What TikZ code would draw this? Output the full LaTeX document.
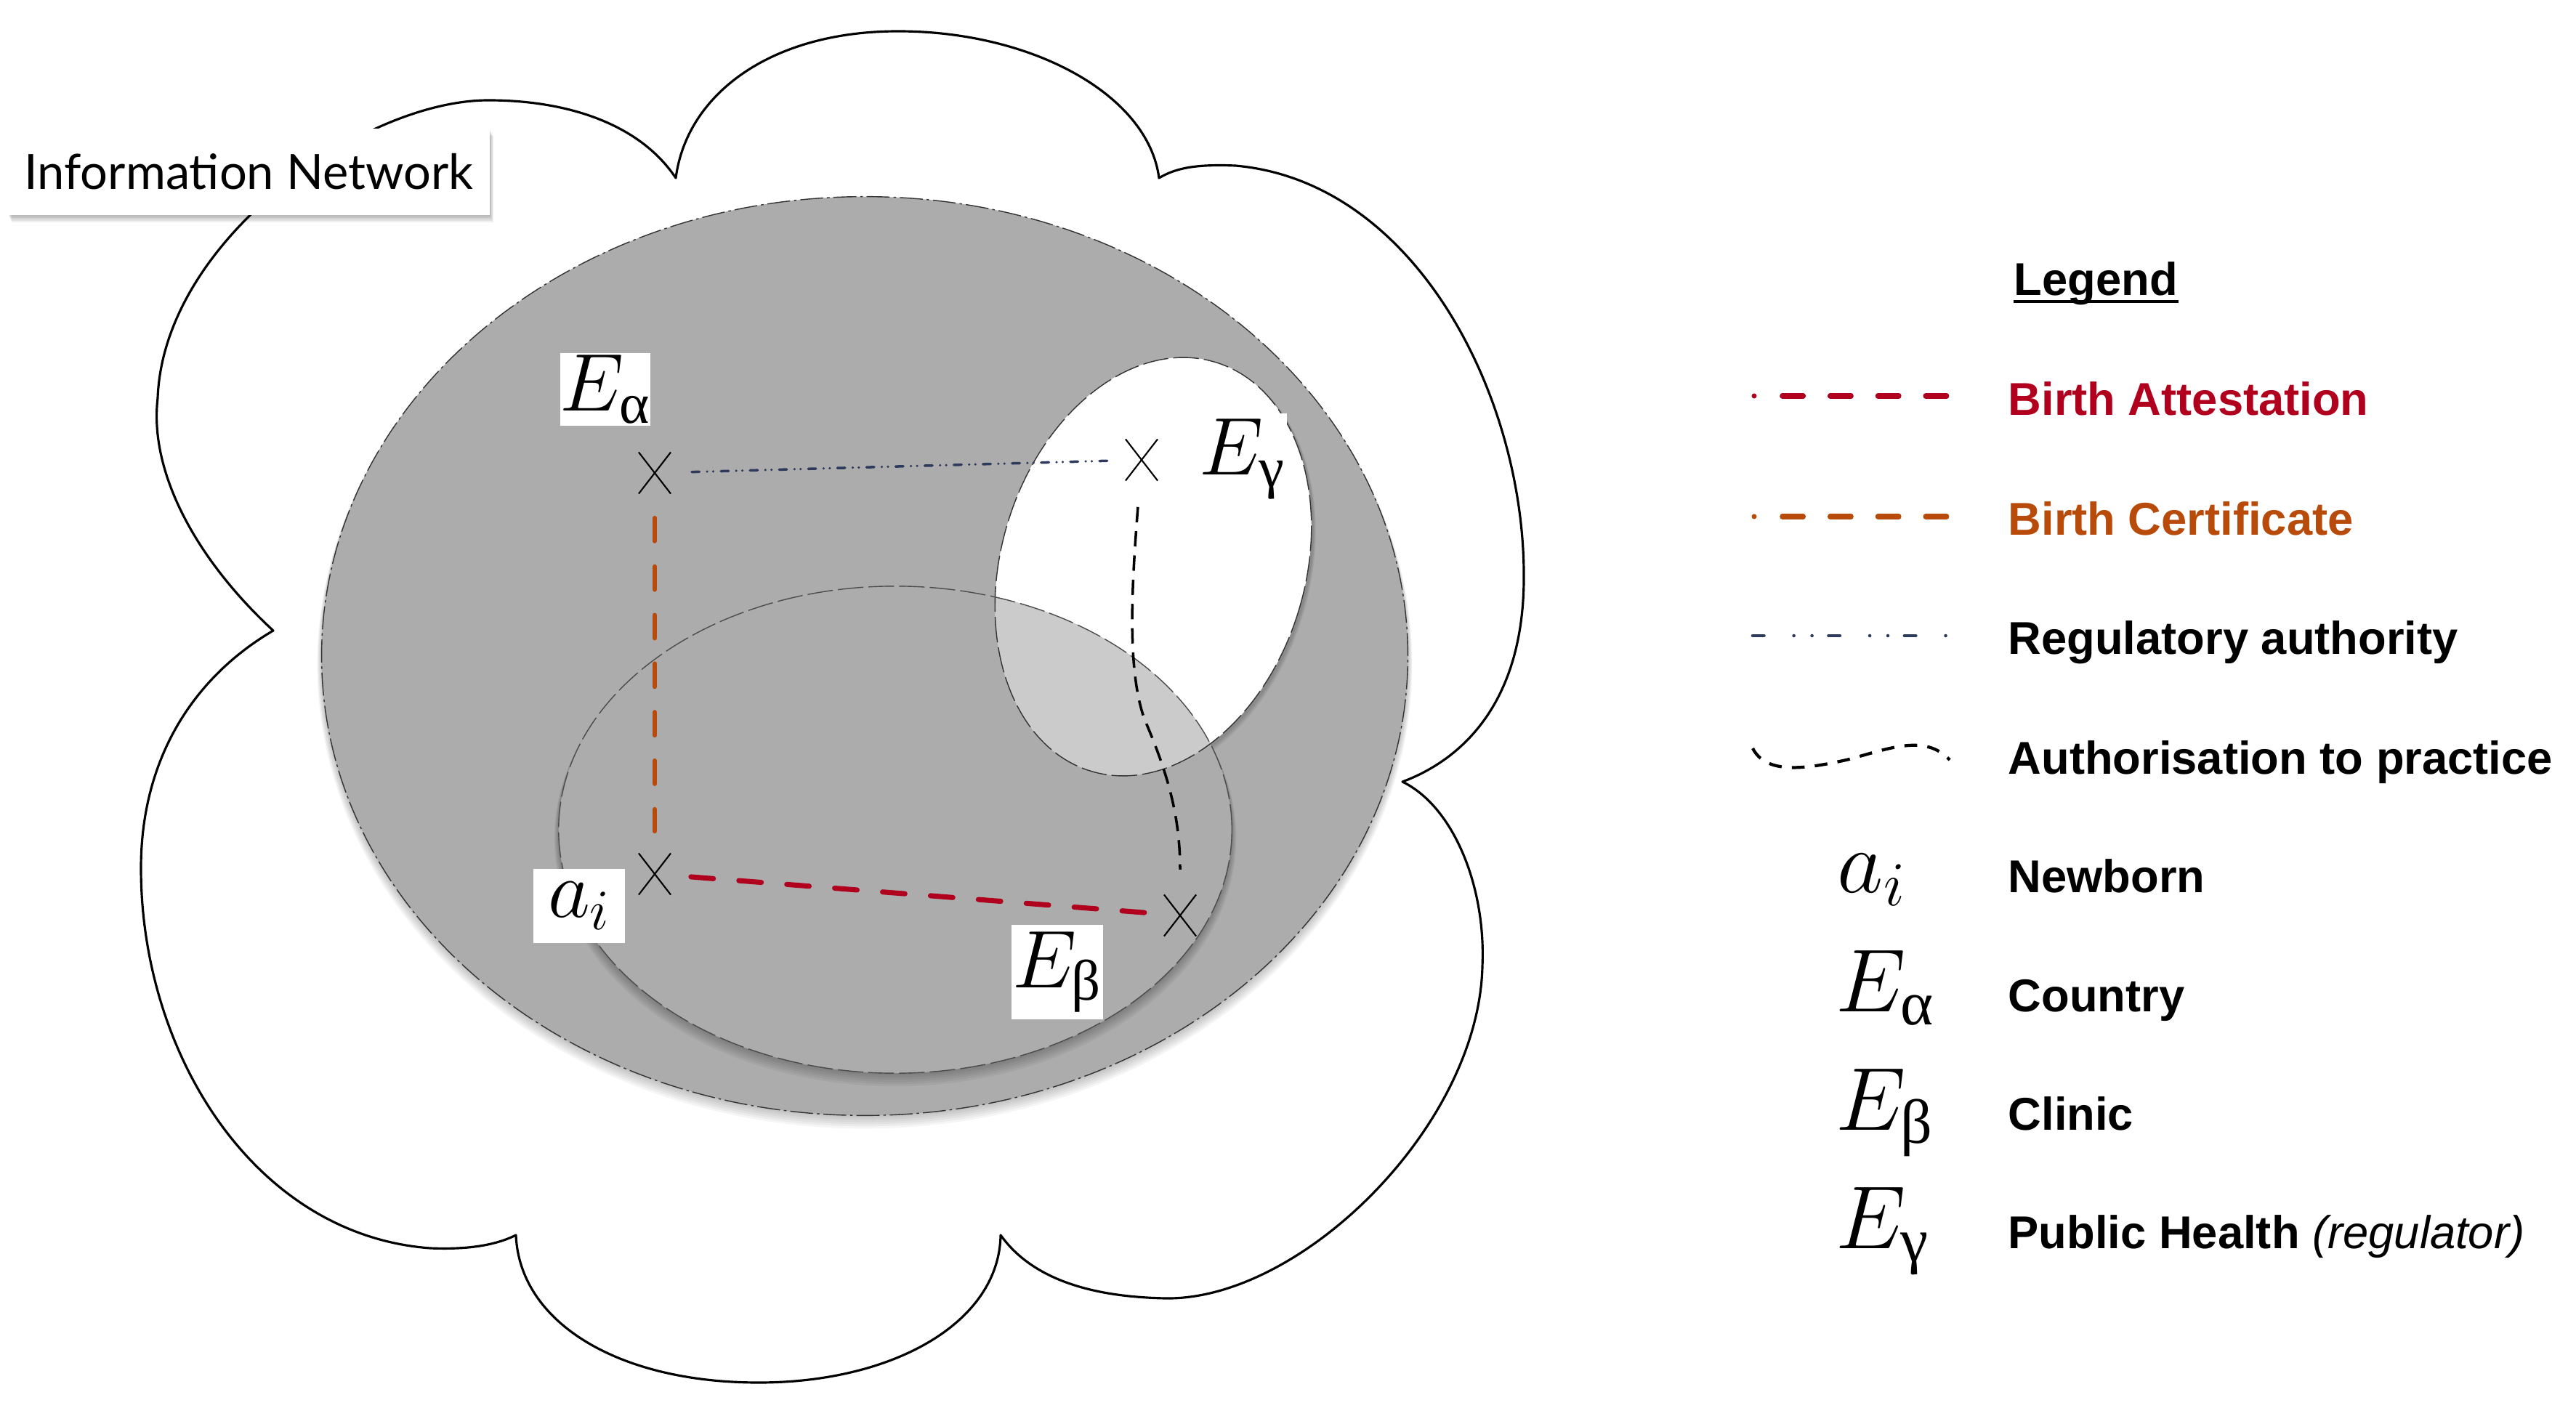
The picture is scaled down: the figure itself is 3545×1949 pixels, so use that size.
\RequirePackage{fix-cm}
\documentclass[tikz,border=0pt]{standalone}
\usepackage{fontspec}
\usepackage{amsmath}
\usetikzlibrary{shapes.misc}
\newfontfamily\latofont{Lato}
\newfontfamily\helvfont{Liberation Sans}
\newfontfamily\grkfont{Liberation Serif}
\newcommand{\grA}{\text{\grkfont α}}
\newcommand{\grB}{\text{\grkfont β}}
\newcommand{\grG}{\text{\grkfont γ}}
\definecolor{cgray}{RGB}{172,172,172}
\definecolor{clight}{RGB}{203,203,203}
\definecolor{cred}{RGB}{176,0,30}
\definecolor{corange}{RGB}{184,74,10}
\definecolor{cnavy}{RGB}{46,58,92}
\tikzset{
  cloudline/.style={line width=0.9pt, line join=round},
  crossmark/.style={cross out, draw, line width=0.6pt, inner sep=0pt, minimum width=0.42cm, minimum height=0.55cm},
  lab/.style={fill=white, inner sep=0pt, font=\fontsize{32}{34}\selectfont},
  attest/.style={cred, line width=2pt, line cap=round, dash pattern=on 8.8pt off 10pt},
  certif/.style={corange, line width=1.8pt, line cap=round, dash pattern=on 9pt off 10pt},
  regul/.style={cnavy, line width=1pt, line cap=round, dash pattern=on 3pt off 3pt on 0pt off 2.4pt on 0pt off 3pt},
  author/.style={black, line width=1pt, dash pattern=on 6pt off 3.5pt},
  legdash/.style={line width=2pt, line cap=round, dash pattern=on 0pt off 11pt on 8.2pt off 10.5pt on 8.2pt off 10.5pt on 8.2pt off 10.5pt on 8.2pt off 20pt},
  legreg/.style={cnavy, line width=1.3pt, line cap=round, dash pattern=on 4.4pt off 11.7pt on 0pt off 7.1pt on 0pt off 6.5pt},
  legauth/.style={black, line width=1.2pt, dash pattern=on 5pt off 4pt},
  legtext/.style={anchor=base west, inner sep=0pt, font=\helvfont\bfseries\fontsize{18}{22}\selectfont},
  legsym/.style={anchor=base west, inner sep=0pt, font=\fontsize{35}{38}\selectfont},
  infobox/.style={fill=white, inner sep=0pt, minimum width=6.63cm, minimum height=1.19cm, font=\latofont\fontsize{19}{22}\selectfont}
}
\begin{document}
\begin{tikzpicture}[x=0.01cm, y=-0.01cm]
\useasboundingbox (0,0) rectangle (3545,1949);
\fill[white] (0,0) rectangle (3545,1949);

% cloud
\draw[cloudline] (930,245) .. controls (945,130) and (1060,43) .. (1236,43)
 .. controls (1420,43) and (1580,130) .. (1595,245)
 .. controls (1620,230) and (1650,226) .. (1700,228)
 .. controls (1950,250) and (2100,550) .. (2097,800)
 .. controls (2095,980) and (2000,1050) .. (1930,1076)
 .. controls (2000,1110) and (2045,1220) .. (2040,1330)
 .. controls (2035,1550) and (1790,1790) .. (1604,1787)
 .. controls (1500,1785) and (1420,1760) .. (1377,1700)
 .. controls (1375,1820) and (1230,1903) .. (1044,1903)
 .. controls (850,1903) and (715,1820) .. (710,1700)
 .. controls (680,1715) and (640,1720) .. (592,1718)
 .. controls (350,1700) and (194,1450) .. (194,1195)
 .. controls (194,1040) and (270,930) .. (376,868)
 .. controls (270,770) and (205,650) .. (217,548)
 .. controls (225,330) and (500,138) .. (672,138)
 .. controls (780,138) and (880,170) .. (930,245) -- cycle;

% info box with shadow
\foreach \k in {1,...,5}
  \fill[black, opacity=0.06] (11+\k,177+2*\k) rectangle (674+\k,296+2*\k);
\node[infobox] (info) at (342.5,236.5) {Information Network};

% big ellipse (country)
\foreach \k in {1,...,6}
  \fill[black, opacity=0.04] (1190,903+2*\k) ellipse [x radius=7.47cm+\k*0.01cm, y radius=6.32cm+\k*0.01cm];
\fill[cgray] (1190,903) ellipse [x radius=7.47cm, y radius=6.32cm];

% white ellipse (public health)
\foreach \k in {1,...,4}
  \fill[black, opacity=0.05, rotate around={-17:(1589,782+\k)}] (1589,782+\k) ellipse [x radius=2.09cm+\k*0.01cm, y radius=2.94cm+\k*0.01cm];
\fill[white, rotate around={-17:(1587,780)}] (1587,780) ellipse [x radius=2.09cm, y radius=2.94cm];

% lower ellipse (clinic)
\foreach \k in {1,...,6}
  \fill[black, opacity=0.045] (1232,1142+2*\k) ellipse [x radius=4.63cm+\k*0.01cm, y radius=3.35cm+\k*0.01cm];
\fill[cgray] (1232,1142) ellipse [x radius=4.63cm, y radius=3.35cm];
\begin{scope}
  \clip (1232,1142) ellipse [x radius=4.63cm, y radius=3.35cm];
  \fill[clight, rotate around={-17:(1587,780)}] (1587,780) ellipse [x radius=2.09cm, y radius=2.94cm];
\end{scope}

% outlines
\draw[black!80, line width=0.4pt, dash pattern=on 9pt off 1.5pt on 1pt off 1.5pt] (1190,903) ellipse [x radius=7.47cm, y radius=6.32cm];
\draw[black!80, line width=0.4pt, dash pattern=on 10pt off 2pt, rotate around={-17:(1587,780)}] (1587,780) ellipse [x radius=2.09cm, y radius=2.94cm];
\draw[black!70, line width=0.4pt, dash pattern=on 10pt off 2pt] (1232,1142) ellipse [x radius=4.63cm, y radius=3.35cm];

% points
\node[crossmark] (xa) at (901,651) {};
\node[crossmark] (xg) at (1571,633) {};
\node[crossmark] (xi) at (901,1203) {};
\node[crossmark] (xb) at (1624,1260) {};

% labels
\node[lab, minimum width=1.24cm, minimum height=1.0cm] (la) at (833,536) {$E_{\grA}$};
\node[lab, minimum width=1.22cm, minimum height=1.26cm] (lg) at (1710,632) {$E_{\grG}$};
\node[lab, minimum width=1.25cm, minimum height=1.02cm] (li) at (797,1247) {$a_i$};
\node[lab, minimum width=1.25cm, minimum height=1.30cm] (lb) at (1455,1338) {$E_{\grB}$};

% connectors
\draw[regul, shorten <=0.51cm, shorten >=0.39cm] (xa.center) -- (xg.center);
\draw[certif, shorten <=0.62cm, shorten >=0.59cm] (xa.center) -- (xi.center);
\draw[attest, shorten <=0.50cm, shorten >=0.39cm] (xi.center) -- (xb.center);
\draw[author, shorten <=0.65cm, shorten >=0.63cm] (xg.center) .. controls (1558,800) and (1550,920) .. (1575,990) .. controls (1605,1060) and (1624,1120) .. (xb.center);

% legend
\node[anchor=base west, inner sep=0pt, font=\helvfont\bfseries\fontsize{18}{22}\selectfont] (leg) at (2771,407) {Legend};
\draw[line width=0.9pt] ([yshift=-0.08cm]leg.base west) -- ([yshift=-0.08cm]leg.base east);

\coordinate (r1a) at (2414,545); \coordinate (r1b) at (2681,545);
\draw[legdash, cred] (r1a) -- (r1b);
\node[legtext, text=cred] (t1) at (2763,572) {Birth Attestation};

\coordinate (r2a) at (2414,711); \coordinate (r2b) at (2681,711);
\draw[legdash, corange] (r2a) -- (r2b);
\node[legtext, text=corange] (t2) at (2763,737) {Birth Certificate};

\coordinate (r3a) at (2412,875); \coordinate (r3b) at (2678,875);
\draw[legreg] (r3a) -- (r3b);
\node[legtext] (t3) at (2763,900) {Regulatory authority};

\coordinate (r4a) at (2412,1030); \coordinate (r4b) at (2683,1046);
\draw[legauth] (r4a) .. controls (2430,1065) and (2480,1060) .. (2545,1045) .. controls (2600,1030) and (2650,1010) .. (r4b);
\node[legtext] (t4) at (2763,1065) {Authorisation to practice};

\node[legsym] (s5) at (2528,1228) {$a_i$};
\node[legtext] (t5) at (2763,1228) {Newborn};
\node[legsym] (s6) at (2526,1392) {$E_{\grA}$};
\node[legtext] (t6) at (2763,1392) {Country};
\node[legsym] (s7) at (2526,1555) {$E_{\grB}$};
\node[legtext] (t7) at (2763,1555) {Clinic};
\node[legsym] (s8) at (2526,1718) {$E_{\grG}$};
\node[legtext] (t8) at (2763,1718) {Public Health {\mdseries\itshape (regulator)}};
\end{tikzpicture}
\end{document}
